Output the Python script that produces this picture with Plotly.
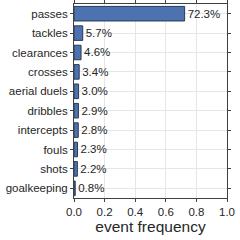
import plotly.graph_objects as go

categories = ["passes", "tackles", "clearances", "crosses", "aerial duels",
              "dribbles", "intercepts", "fouls", "shots", "goalkeeping"]
values = [0.723, 0.057, 0.046, 0.034, 0.030, 0.029, 0.028, 0.023, 0.022, 0.008]
labels = ["72.3%", "5.7%", "4.6%", "3.4%", "3.0%", "2.9%", "2.8%", "2.3%", "2.2%", "0.8%"]

FONT = "Liberation Sans, Arial"

fig = go.Figure(go.Bar(
    x=values, y=categories, orientation="h",
    marker=dict(color="#4C72B0", line=dict(color="#2a3a55", width=1)),
    text=labels, textposition="outside", cliponaxis=False,
    textfont=dict(family=FONT, size=11.5, color="#262626"),
))

axis_common = dict(showline=True, linecolor="#404040", linewidth=1, mirror="ticks",
                   ticks="outside", ticklen=3, tickcolor="#404040",
                   gridcolor="#e6e6e6", gridwidth=1, automargin=False,
                   tickfont=dict(family=FONT, size=11.5, color="#262626"))

fig.update_layout(
    width=240, height=240,
    margin=dict(l=74, r=13, t=4, b=42),
    plot_bgcolor="white", paper_bgcolor="white",
    bargap=0.25, showlegend=False,
    xaxis=dict(range=[0, 1.0], dtick=0.2, tickformat=".1f",
               title=dict(text="event frequency", standoff=2,
                          font=dict(family=FONT, size=15.5, color="#262626")),
               **axis_common),
    yaxis=dict(autorange="reversed", **axis_common),
)

fig.write_html("out.html", config={"displayModeBar": False},
               post_script="document.body.style.margin='0';")
